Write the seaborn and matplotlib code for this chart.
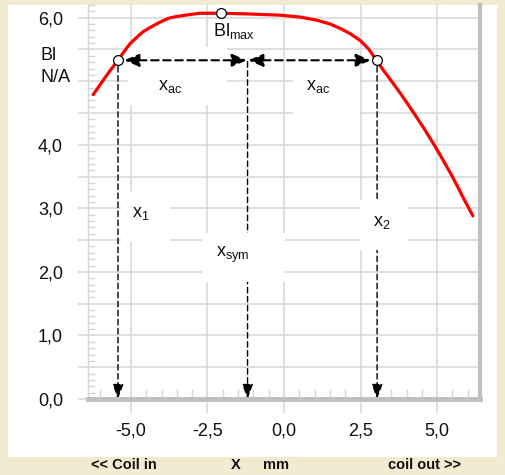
import numpy as np
import pandas as pd
import matplotlib
matplotlib.use("Agg")
import matplotlib.pyplot as plt
import seaborn as sns
from matplotlib.patches import Rectangle
from matplotlib.ticker import MultipleLocator, FixedLocator, FuncFormatter

# ---- data ----
x_mm = [-6.23, -6.07, -5.90, -5.69, -5.47, -5.25, -5.03, -4.81, -4.60, -4.32,
        -4.05, -3.78, -3.50, -3.07, -2.74, -2.06, -1.21, -0.67, -0.12, 0.53,
        1.08, 1.51, 1.84, 2.16, 2.49, 2.76, 3.02, 3.25, 3.53, 3.80,
        4.07, 4.35, 4.62, 4.89, 5.17, 5.44, 5.66, 5.87, 6.17]
bl_na = [4.79, 4.90, 5.02, 5.16, 5.30, 5.45, 5.59, 5.69, 5.78, 5.86,
         5.93, 5.99, 6.02, 6.05, 6.07, 6.07, 6.06, 6.05, 6.04, 6.01,
         5.96, 5.90, 5.83, 5.75, 5.64, 5.51, 5.33, 5.17, 4.99, 4.81,
         4.62, 4.42, 4.22, 4.01, 3.78, 3.55, 3.35, 3.15, 2.88]
x1_mm = -5.42
x2_mm = 3.04
bl_level = 5.33
blmax_x = -2.06
blmax_val = 6.07
x_tick_values = [-5.0, -2.5, 0.0, 2.5, 5.0]
y_tick_values = [0.0, 1.0, 2.0, 3.0, 4.0, 6.0]
bottom_labels = ["<< Coil in", "X", "mm", "coil out >>"]

sns.set_theme(style="white")
plt.rcParams["font.family"] = ["Liberation Sans", "DejaVu Sans"]
plt.rcParams["mathtext.default"] = "regular"
plt.rcParams["axes.unicode_minus"] = False

BEIGE = "#f3ebd1"
GRID = "#d6d6d6"
SHADOW = "#c0c0c0"
FS = 13

W, H = 505, 475
fig = plt.figure(figsize=(W / 100, H / 100), dpi=100, facecolor=BEIGE)
fig.patches.append(Rectangle((8 / W, 18 / H), 489 / W, 452 / H, transform=fig.transFigure,
                             facecolor="white", edgecolor="none", zorder=-5))
ax = fig.add_axes([88 / W, 76 / H, 392 / W, 394 / H])
ax.set_zorder(1)
ax.set_facecolor("white")

df = pd.DataFrame({"x": x_mm, "bl": bl_na})
sns.lineplot(data=df, x="x", y="bl", color="#ff0000", lw=2.3, ax=ax, zorder=6, sort=False)

ax.set_xlim(-6.4, 6.4)
ax.set_ylim(0, 6.2)
ax.set_xlabel("")
ax.set_ylabel("")

# ticks & grid
ax.xaxis.set_major_locator(FixedLocator(x_tick_values))
ax.xaxis.set_minor_locator(MultipleLocator(0.5))
ax.yaxis.set_major_locator(MultipleLocator(0.5))
ax.yaxis.set_minor_locator(MultipleLocator(0.1))
ax.xaxis.set_major_formatter(FuncFormatter(lambda v, p: f"{v:.1f}".replace(".", ",")))
ax.yaxis.set_major_formatter(FuncFormatter(
    lambda v, p: f"{v:.1f}".replace(".", ",") if any(abs(v - t) < 1e-6 for t in y_tick_values) else ""))
ax.grid(True, which="major", color=GRID, lw=1.1)
ax.set_axisbelow(True)
ax.tick_params(axis="x", which="major", direction="out", length=10, width=1.1, color=GRID,
               labelsize=FS, pad=7, labelcolor="#111111")
ax.tick_params(axis="y", which="major", direction="out", length=7, width=1.1, color=GRID,
               labelsize=FS, pad=11, labelcolor="#111111")
ax.tick_params(axis="x", which="minor", direction="in", length=7, width=1.0, color=GRID)
ax.tick_params(axis="y", which="minor", direction="in", length=5, width=1.0, color=GRID)
ax.tick_params(which="both", bottom=True, left=True)
ax.spines["top"].set_visible(False)
ax.spines["left"].set_color(GRID)
ax.spines["left"].set_linewidth(1.0)
ax.spines["bottom"].set_color(SHADOW)
ax.spines["bottom"].set_linewidth(3.6)
ax.spines["right"].set_color(SHADOW)
ax.spines["right"].set_linewidth(3.0)

x_sym = (x1_mm + x2_mm) / 2

# white label boxes (cover grid & vertical dashed lines)
boxes = [
    (x1_mm + 0.09, 2.47, 1.61, 0.78),     # x1
    (x2_mm - 0.55, 2.34, 1.57, 0.79),     # x2
    (x_sym - 1.49, 1.84, 2.72, 0.77),     # xsym
    (x1_mm + 0.32, 4.62, 3.24, 0.92),     # xac left
    (x_sym + 1.49, 4.47, 2.19, 0.85),     # xac right
]
for (bx, by, bw, bh) in boxes:
    ax.add_patch(Rectangle((bx, by), bw, bh, facecolor="white", edgecolor="none", zorder=3))

# horizontal double arrows
hkw = dict(arrowstyle="<|-|>,head_length=0.75,head_width=0.32", color="black", lw=1.5,
           linestyle=(0, (3.6, 2.2)))
ax.annotate("", xy=(x_sym, bl_level), xytext=(x1_mm, bl_level),
            arrowprops=dict(hkw, shrinkA=4.5, shrinkB=0.5), zorder=4)
ax.annotate("", xy=(x2_mm, bl_level), xytext=(x_sym, bl_level),
            arrowprops=dict(hkw, shrinkA=0.5, shrinkB=4.5), zorder=4)

# vertical arrows
vkw = dict(arrowstyle="-|>,head_length=0.75,head_width=0.28", color="black", lw=1.0,
           linestyle=(0, (4, 2.5)))
for xv, sa in [(x1_mm, 4.5), (x_sym, 1), (x2_mm, 4.5)]:
    ax.annotate("", xy=(xv, 0.0), xytext=(xv, bl_level),
                arrowprops=dict(vkw, shrinkA=sa, shrinkB=0), zorder=2)

# points
pts = pd.DataFrame({"x": [x1_mm, blmax_x, x2_mm], "y": [bl_level, blmax_val, bl_level]})
sns.scatterplot(data=pts, x="x", y="y", s=50, color="white", edgecolor="black",
                linewidth=0.9, ax=ax, zorder=7)
ax.set_xlabel("")
ax.set_ylabel("")

# labels
tkw = dict(fontsize=FS, ha="center", va="center", zorder=8, color="#111111")
ax.text(x1_mm + 0.75, 2.92, "x$_1$", **tkw)
ax.text(x2_mm + 0.14, 2.78, "x$_2$", **tkw)
ax.text(x_sym - 0.47, 2.26, "x$_{sym}$", **tkw)
ax.text(x1_mm + 1.70, 4.91, "x$_{ac}$", **tkw)
ax.text(x_sym + 2.31, 4.91, "x$_{ac}$", **tkw)
ax.text(blmax_x + 0.43, 5.79, "Bl$_{max}$", **tkw)

# y quantity label
fig.text(40 / W, 1 - 56 / H, "Bl", fontsize=FS, ha="left", va="center", color="#111111")
fig.text(40 / W, 1 - 78 / H, "N/A", fontsize=FS, ha="left", va="center", color="#111111")

# bottom strip labels
bx_pos = [124, 236, 276, 425]
for lab, px in zip(bottom_labels, bx_pos):
    fig.text(px / W, 1 - 465 / H, lab, fontsize=10.5, fontweight="bold", ha="center",
             va="center", color="#111111")

fig.savefig("out.png", dpi=100, facecolor=BEIGE)
